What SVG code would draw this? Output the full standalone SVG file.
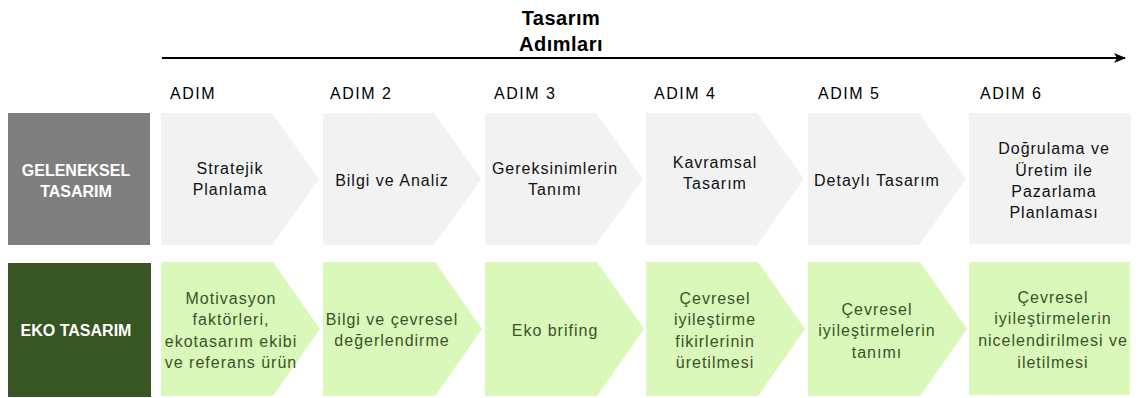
<svg xmlns="http://www.w3.org/2000/svg" xmlns:xlink="http://www.w3.org/1999/xlink" width="1142" height="398" viewBox="0 0 1142 398">
<style>
  text { font-family: "Liberation Sans", Arial, sans-serif; }
  .title { font-size: 20px; font-weight: bold; fill: #000; text-anchor: middle; letter-spacing: 0.5px; }
  .step { font-size: 16px; fill: #000; letter-spacing: 1.5px; }
  .hdr { font-size: 16px; font-weight: bold; fill: #fff; text-anchor: middle; }
  .t1 { font-size: 16px; fill: #111; text-anchor: middle; letter-spacing: 1px; }
  .t2 { font-size: 16px; fill: #3b5229; text-anchor: middle; letter-spacing: 1px; }
  .g1 { fill: #f2f2f2; }
  .g2 { fill: #d9f8b9; }
</style>
<defs>
  <path id="chev1" d="M0,113 H111 L158,179 L111,245 H0 Z"/>
  <path id="chev2" d="M0,262 H112 L159,329 L112,396 H0 Z"/>
  <marker id="ah" viewBox="0 0 12 10" refX="11" refY="5" markerWidth="12" markerHeight="10" markerUnits="userSpaceOnUse" orient="auto">
    <path d="M0,0 L12,5 L0,10 L3,5 Z" fill="#000"/>
  </marker>
</defs>

<g id="title">
  <text class="title" x="561" y="25">Tasarım</text>
  <text class="title" x="561" y="51">Adımları</text>
</g>

<g id="connectors">
  <line x1="162" y1="58" x2="1125" y2="58" stroke="#000" stroke-width="2" marker-end="url(#ah)"/>
</g>

<g id="steps">
  <text class="step" x="170" y="99">ADIM</text>
  <text class="step" x="330" y="99">ADIM 2</text>
  <text class="step" x="494" y="99">ADIM 3</text>
  <text class="step" x="654" y="99">ADIM 4</text>
  <text class="step" x="818" y="99">ADIM 5</text>
  <text class="step" x="980" y="99">ADIM 6</text>
</g>

<g id="geleneksel">
  <rect x="8" y="113" width="142" height="132" fill="#7f7f7f"/>
  <text class="hdr" x="76" y="176">GELENEKSEL</text>
  <text class="hdr" x="76" y="197">TASARIM</text>
</g>

<g id="g-step1">
  <use xlink:href="#chev1" x="161" class="g1"/>
  <text class="t1" x="230" y="174">Stratejik</text>
  <text class="t1" x="230" y="195">Planlama</text>
</g>
<g id="g-step2">
  <use xlink:href="#chev1" x="323" class="g1"/>
  <text class="t1" x="392" y="186">Bilgi ve Analiz</text>
</g>
<g id="g-step3">
  <use xlink:href="#chev1" x="485" class="g1"/>
  <text class="t1" x="555" y="174">Gereksinimlerin</text>
  <text class="t1" x="555" y="195">Tanımı</text>
</g>
<g id="g-step4">
  <use xlink:href="#chev1" x="646" class="g1"/>
  <text class="t1" x="715" y="168">Kavramsal</text>
  <text class="t1" x="715" y="189">Tasarım</text>
</g>
<g id="g-step5">
  <use xlink:href="#chev1" x="808" class="g1"/>
  <text class="t1" x="877" y="186">Detaylı Tasarım</text>
</g>
<g id="g-step6">
  <rect x="969" y="113" width="162" height="131" class="g1"/>
  <text class="t1" x="1054" y="154">Doğrulama ve</text>
  <text class="t1" x="1054" y="176">Üretim ile</text>
  <text class="t1" x="1054" y="197">Pazarlama</text>
  <text class="t1" x="1054" y="218">Planlaması</text>
</g>

<g id="eko">
  <rect x="8" y="263" width="143" height="134" fill="#375623"/>
  <text class="hdr" x="76" y="336">EKO TASARIM</text>
</g>

<g id="e-step1">
  <use xlink:href="#chev2" x="161" class="g2"/>
  <text class="t2" x="231" y="304">Motivasyon</text>
  <text class="t2" x="231" y="325">faktörleri,</text>
  <text class="t2" x="231" y="347">ekotasarım ekibi</text>
  <text class="t2" x="231" y="368">ve referans ürün</text>
</g>
<g id="e-step2">
  <use xlink:href="#chev2" x="323" class="g2"/>
  <text class="t2" x="392" y="325">Bilgi ve çevresel</text>
  <text class="t2" x="392" y="346">değerlendirme</text>
</g>
<g id="e-step3">
  <use xlink:href="#chev2" x="485" class="g2"/>
  <text class="t2" x="555" y="336">Eko brifing</text>
</g>
<g id="e-step4">
  <use xlink:href="#chev2" x="646" class="g2"/>
  <text class="t2" x="715" y="304">Çevresel</text>
  <text class="t2" x="715" y="325">iyileştirme</text>
  <text class="t2" x="715" y="347">fikirlerinin</text>
  <text class="t2" x="715" y="368">üretilmesi</text>
</g>
<g id="e-step5">
  <use xlink:href="#chev2" x="808" class="g2"/>
  <text class="t2" x="877" y="315">Çevresel</text>
  <text class="t2" x="877" y="336">iyileştirmelerin</text>
  <text class="t2" x="877" y="358">tanımı</text>
</g>
<g id="e-step6">
  <rect x="969" y="262" width="161" height="133" class="g2"/>
  <text class="t2" x="1053" y="303">Çevresel</text>
  <text class="t2" x="1053" y="324">iyileştirmelerin</text>
  <text class="t2" x="1053" y="346">nicelendirilmesi ve</text>
  <text class="t2" x="1053" y="368">iletilmesi</text>
</g>
</svg>
